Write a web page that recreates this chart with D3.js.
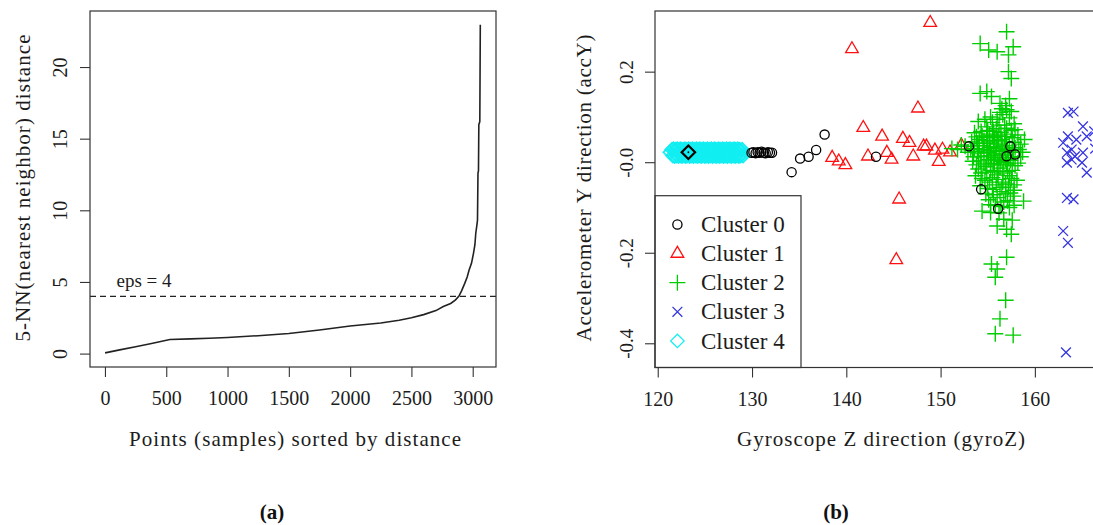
<!DOCTYPE html>
<html>
<head>
<meta charset="utf-8">
<script src="https://cdn.jsdelivr.net/npm/d3@7"></script>
<style>
html,body{margin:0;padding:0;background:#fff;}
svg{display:block;}
</style>
</head>
<body>
<svg id="chart" width="1093" height="525"></svg>
<script>
// ---------------- DATA ----------------
// (a) sorted 5-NN distance curve
const knnIndex = [1, 120, 250, 380, 530, 700, 850, 1000, 1250, 1500, 1750, 2000, 2250, 2400, 2500, 2600, 2700, 2760, 2820, 2860, 2888, 2910, 2935, 2955, 2970, 2990, 3006, 3018, 3025, 3033, 3039, 3043, 3047, 3050, 3055, 3058, 3062];
const knnDist  = [0.05, 0.26, 0.48, 0.70, 0.98, 1.03, 1.07, 1.12, 1.25, 1.40, 1.65, 1.93, 2.14, 2.33, 2.50, 2.72, 3.00, 3.28, 3.50, 3.75, 4.02, 4.40, 4.90, 5.35, 5.82, 6.30, 6.98, 7.60, 8.40, 8.90, 9.31, 12.60, 12.75, 16.00, 16.10, 16.20, 22.95];
const epsValue = 4;
const epsLabel = "eps = 4";
const xTicksLeft = [0, 500, 1000, 1500, 2000, 2500, 3000];
const yTicksLeft = [0, 5, 10, 15, 20];

// (b) clusters: [gyroZ, accY]
const cluster0 = [
  [129.95,0.021],[130.15,0.022],[130.38,0.020],[130.6,0.022],[130.8,0.021],[131.0,0.023],[131.25,0.021],[131.45,0.020],[131.68,0.022],[131.9,0.021],[132.12,0.021],
  [134.2,-0.022],[135.1,0.008],[136.0,0.012],[136.8,0.027],[137.7,0.061],[143.15,0.012],
  [153.0,0.035],[154.3,-0.060],[156.1,-0.103],[157.4,0.035],[157.0,0.013],[157.9,0.017]
];
const cluster0Overlap = [[123.25,0.022]];
const cluster1 = [
  [138.5,0.010],[139.2,0.002],[139.9,-0.006],[140.6,0.250],[141.8,0.076],[142.3,0.013],[143.8,0.057],[144.3,0.021],
  [144.8,0.006],[145.3,-0.216],[145.6,-0.082],[146.0,0.052],[146.7,0.043],[147.1,0.013],[147.6,0.119],[148.2,0.035],
  [148.5,0.035],[148.9,0.308],[149.4,0.026],[149.8,0.001],[150.2,0.028],[151.0,0.022],[152.2,0.037]
];
const cluster2 = [
  [157.0,0.288],[154.2,0.262],[155.1,0.248],[156.0,0.244],[157.7,0.255],[157.2,0.237],[157.2,0.200],[157.5,0.185],
  [154.2,0.152],[154.9,0.156],[155.4,0.145],[156.3,0.130],[157.0,0.116],[156.9,0.125],[157.3,0.140],[156.5,0.118],
  [156.6,0.105],[157.3,0.098],[156.0,0.095],[155.5,0.088],[157.8,0.085],[156.8,0.082],[154.9,0.078],[155.9,0.074],
  [157.5,0.070],[154.3,0.068],[156.4,0.066],[155.2,0.062],[158.2,0.060],[153.8,0.056],[157.0,0.057],[155.7,0.054],
  [156.5,0.050],[154.6,0.048],[158.9,0.050],[153.3,0.045],[157.8,0.044],[155.0,0.042],[156.1,0.040],[154.1,0.037],
  [157.3,0.036],[152.6,0.035],[155.6,0.034],[156.8,0.031],[153.6,0.030],[154.6,0.028],[158.3,0.028],[151.8,0.028],
  [155.3,0.026],[156.3,0.024],[157.6,0.022],[152.9,0.022],[154.0,0.020],[155.8,0.018],[156.9,0.016],[154.9,0.014],
  [153.5,0.012],[158.5,0.012],[156.2,0.010],[155.1,0.006],[157.4,0.004],[154.2,0.003],[156.7,0.000],[155.6,-0.003],
  [153.8,-0.006],[157.9,-0.008],[154.8,-0.010],[156.3,-0.013],[155.3,-0.018],[157.1,-0.020],[154.3,-0.024],[156.0,-0.028],
  [155.5,-0.034],[157.5,-0.036],[154.7,-0.040],[156.6,-0.044],[155.9,-0.050],[157.2,-0.055],[155.0,-0.058],[156.3,-0.065],
  [157.8,-0.062],[155.6,-0.072],[157.7,-0.075],[158.8,-0.086],[156.7,-0.088],[155.8,-0.095],[154.4,-0.108],[155.3,-0.111],
  [156.7,-0.126],[156.0,-0.141],[157.0,-0.148],[157.5,-0.159],[157.0,-0.210],[155.4,-0.225],[156.0,-0.236],[155.8,-0.254],
  [156.9,-0.305],[156.3,-0.346],[155.8,-0.379],[157.7,-0.382],
  [155.9,0.030],[156.5,0.036],[155.2,0.045],[156.9,0.045],[155.7,0.010],[156.4,0.002],[155.0,0.022],[157.2,0.010],
  [156.1,0.058],[154.4,0.058],[157.3,-0.100],[156.2,-0.112],[157.6,-0.128],[155.1,-0.083],[156.9,-0.070],[158.1,-0.040],
  [151.2,0.030],[152.2,0.038],
  [154.0,0.090],[154.7,0.095],[155.3,0.100],[156.3,0.110],[157.5,0.112],[155.0,0.070],[155.6,0.068],[156.2,0.082],
  [157.0,0.075],[157.9,0.072],[153.6,0.065],[154.1,0.050],[154.9,0.055],[155.5,0.058],[156.8,0.062],[157.6,0.054],
  [158.5,0.040],[153.9,0.042],[154.5,0.036],[155.2,0.032],[156.0,0.048],[156.6,0.026],[157.1,0.028],[157.9,0.032],
  [158.7,0.022],[153.2,0.028],[153.9,0.024],[154.3,0.012],[155.4,0.014],[156.0,0.004],[156.9,0.006],[157.7,0.010],
  [158.2,-0.002],[153.4,0.002],[154.6,-0.002],[155.3,-0.006],[156.1,-0.006],[157.0,-0.004],[157.6,-0.018],[154.0,-0.015],
  [154.9,-0.022],[155.7,-0.020],[156.6,-0.024],[157.3,-0.030],[153.7,-0.030],[154.4,-0.036],[155.2,-0.044],[156.1,-0.038],
  [156.9,-0.048],[157.8,-0.050],[154.2,-0.052],[155.5,-0.060],[156.5,-0.056],[157.4,-0.068],[154.8,-0.070],[156.0,-0.078],
  [157.1,-0.085],[155.3,-0.094],[156.4,-0.098],[157.8,-0.095]
];
const cluster3 = [
  [164.1,0.112],[163.5,0.109],[165.1,0.079],[163.5,0.057],[164.4,0.050],[165.5,0.057],[163.9,0.028],[163.4,0.021],
  [164.25,0.013],[165.1,0.021],[165.0,-0.001],[163.4,-0.001],[163.9,0.006],[165.5,-0.023],[163.0,0.043],[163.4,-0.079],
  [164.1,-0.082],[163.0,-0.152],[163.5,-0.178],[163.3,-0.420],[166.3,0.068],[166.4,0.030]
];
const cluster4 = [
  [121.31,0.0218],
  [121.52,0.028],[121.68,0.029],[121.9,0.028],[122.07,0.029],[122.3,0.028],[122.46,0.029],[122.7,0.028],[122.88,0.029],
  [123.05,0.028],[123.27,0.029],[123.5,0.028],[123.66,0.029],[123.88,0.028],[124.1,0.029],[124.29,0.028],[124.47,0.029],
  [124.7,0.028],[124.86,0.029],[125.08,0.028],[125.3,0.029],[125.47,0.028],[125.7,0.029],[125.9,0.028],[126.06,0.029],
  [126.3,0.028],[126.48,0.029],[126.69,0.028],[126.9,0.029],[127.08,0.028],[127.3,0.029],[127.5,0.028],[127.67,0.029],
  [127.9,0.028],[128.1,0.029],[128.27,0.028],[128.5,0.029],[128.7,0.028],[128.95,0.028],
  [121.6,0.014],[121.79,0.013],[122.0,0.014],[122.18,0.013],[122.4,0.014],[122.58,0.013],[122.8,0.014],[122.97,0.013],
  [123.18,0.014],[123.4,0.013],[123.58,0.014],[123.8,0.013],[124.0,0.014],[124.2,0.013],[124.38,0.014],[124.6,0.013],
  [124.78,0.014],[125.0,0.013],[125.2,0.014],[125.38,0.013],[125.6,0.014],[125.8,0.013],[125.98,0.014],[126.2,0.013],
  [126.4,0.014],[126.58,0.013],[126.8,0.014],[127.0,0.013],[127.2,0.014],[127.4,0.013],[127.58,0.014],[127.8,0.013],
  [128.0,0.014],[128.2,0.013],[128.4,0.014],[128.6,0.013],[128.8,0.014],[129.05,0.014]
];
const clusterNames = ["Cluster 0", "Cluster 1", "Cluster 2", "Cluster 3", "Cluster 4"];
const xTicksRight = [120, 130, 140, 150, 160];
const yTicksRight = [-0.4, -0.2, 0, 0.2];
const yTickLabelsRight = ["-0.4", "-0.2", "-0.0", "0.2"];
const panelLabels = ["(a)", "(b)"];
const titleLeftX = "Points (samples) sorted by distance";
const titleLeftY = "5-NN(nearest neighbor) distance";
const titleRightX = "Gyroscope Z direction (gyroZ)";
const titleRightY = "Accelerometer Y direction (accY)";

// ---------------- STYLE ----------------
const FONT = "'Liberation Serif','Times New Roman',serif";
const INK = "#1c1c1c";
const AXIS = "#333";
const clusterColors = ["#000000", "#ff1010", "#00cd00", "#3535e0", "#12eef2"];

const svg = d3.select("#chart");
svg.append("rect").attr("width", 1093).attr("height", 525).attr("fill", "#fff");

function symbolPath(type, cx, cy) {
  if (type === 1) return `M${cx},${cy-7.3}L${cx+6.33},${cy+3.66}L${cx-6.33},${cy+3.66}Z`;
  if (type === 2) return `M${cx-8},${cy}H${cx+8}M${cx},${cy-8}V${cy+8}`;
  if (type === 3) return `M${cx-4.9},${cy-4.9}L${cx+4.9},${cy+4.9}M${cx-4.9},${cy+4.9}L${cx+4.9},${cy-4.9}`;
  if (type === 4) return `M${cx},${cy-6.7}L${cx+6.7},${cy}L${cx},${cy+6.7}L${cx-6.7},${cy}Z`;
  return null;
}
function drawSymbol(g, type, cx, cy, color, sw) {
  if (type === 0) {
    g.append("circle").attr("cx", cx).attr("cy", cy).attr("r", 4.6)
      .attr("fill", "none").attr("stroke", color).attr("stroke-width", sw);
  } else {
    g.append("path").attr("d", symbolPath(type, cx, cy))
      .attr("fill", "none").attr("stroke", color).attr("stroke-width", sw);
  }
}

function xAxis(g, scale, ticks, yPos, fs, labels) {
  const ax = d3.axisBottom(scale).tickValues(ticks).tickSize(10)
    .tickFormat(labels ? (d, i) => labels[i] : d3.format("d"));
  const a = g.append("g").attr("transform", `translate(0,${yPos})`).call(ax);
  a.attr("font-family", FONT).attr("font-size", fs);
  a.select(".domain").remove();
  a.selectAll(".tick line").attr("stroke", AXIS).attr("stroke-width", 1.1);
  a.selectAll(".tick text").attr("y", 38).attr("dy", 0).attr("fill", INK);
}
function yAxis(g, scale, ticks, xPos, fs, off, labels) {
  const ax = d3.axisLeft(scale).tickValues(ticks).tickSize(10)
    .tickFormat(labels ? (d, i) => labels[i] : d3.format("d"));
  const a = g.append("g").attr("transform", `translate(${xPos},0)`).call(ax);
  a.attr("font-family", FONT).attr("font-size", fs);
  a.select(".domain").remove();
  a.selectAll(".tick line").attr("stroke", AXIS).attr("stroke-width", 1.1);
  a.selectAll(".tick text").attr("transform", "rotate(-90)")
    .attr("x", 0).attr("y", -off).attr("dy", 0).attr("text-anchor", "middle").attr("fill", INK);
}
function title(g, txt, x, y, len, rot) {
  const t = g.append("text").text(txt).attr("font-family", FONT).attr("font-size", 21)
    .attr("fill", INK).attr("text-anchor", "middle")
    .attr("textLength", len).attr("lengthAdjust", "spacing");
  if (rot) t.attr("transform", `translate(${x},${y}) rotate(-90)`);
  else t.attr("x", x).attr("y", y);
}

// ---------------- PANEL (a) ----------------
const gA = svg.append("g");
const xL = d3.scaleLinear().domain([-122, 3190]).range([90, 496]);
const yL = d3.scaleLinear().domain([-0.936, 23.91]).range([367, 11]);

gA.append("line").attr("x1", 90).attr("x2", 496).attr("y1", yL(epsValue)).attr("y2", yL(epsValue))
  .attr("stroke", "#222").attr("stroke-width", 1.3).attr("stroke-dasharray", "6,4");
gA.append("path").datum(knnDist)
  .attr("d", d3.line().x((d, i) => xL(knnIndex[i])).y(d => yL(d)))
  .attr("fill", "none").attr("stroke", "#222").attr("stroke-width", 1.6);
gA.append("text").text(epsLabel).attr("x", 144).attr("y", 287).attr("text-anchor", "middle")
  .attr("font-family", FONT).attr("font-size", 19).attr("fill", INK);
gA.append("rect").attr("x", 90).attr("y", 11).attr("width", 406).attr("height", 356)
  .attr("fill", "none").attr("stroke", AXIS).attr("stroke-width", 1.2);
xAxis(gA, xL, xTicksLeft, 367, 20);
yAxis(gA, yL, yTicksLeft, 90, 20, 23);
title(gA, titleLeftX, 295, 446, 332);
title(gA, titleLeftY, 30, 188, 307, true);

// ---------------- PANEL (b) ----------------
const gB = svg.append("g");
const xR = d3.scaleLinear().domain([119.71, 167.65]).range([655, 1107]);
const yR = d3.scaleLinear().domain([-0.4535, 0.334]).range([367.5, 11]);
const pts = gB.append("g");

const drawOrder = [[cluster4, 4], [cluster1, 1], [cluster2, 2], [cluster0, 0], [cluster3, 3]];
drawOrder.forEach(([arr, type]) => {
  arr.forEach(p => drawSymbol(pts, type, xR(p[0]), yR(p[1]), clusterColors[type], type === 4 ? 1.8 : (type === 2 ? 1.4 : 1.3)));
});
cluster0Overlap.forEach(p => {
  pts.append("path").attr("d", symbolPath(4, xR(p[0]), yR(p[1])))
    .attr("fill", "none").attr("stroke", "#000").attr("stroke-width", 2.2);
  pts.append("circle").attr("cx", xR(p[0])).attr("cy", yR(p[1])).attr("r", 0.9).attr("fill", "#000");
});

// legend
const lg = gB.append("g");
lg.append("rect").attr("x", 655).attr("y", 195.7).attr("width", 146).attr("height", 171.8)
  .attr("fill", "#fff").attr("stroke", AXIS).attr("stroke-width", 1.2);
clusterNames.forEach((name, i) => {
  const cy = 224.5 + i * 29.1;
  drawSymbol(lg, i, 677.4, cy, clusterColors[i], 1.3);
  lg.append("text").text(name).attr("x", 701).attr("y", cy + 7.6)
    .attr("font-family", FONT).attr("font-size", 23).attr("fill", INK);
});

gB.append("rect").attr("x", 655).attr("y", 11).attr("width", 452).attr("height", 356.5)
  .attr("fill", "none").attr("stroke", AXIS).attr("stroke-width", 1.2);
xAxis(gB, xR, xTicksRight, 367.5, 20);
yAxis(gB, yR, yTicksRight, 655, 19, 21.7, yTickLabelsRight);
title(gB, titleRightX, 881, 446, 288);
title(gB, titleRightY, 591, 188, 307, true);

// panel captions
[[272, panelLabels[0]], [836, panelLabels[1]]].forEach(([x, t]) => {
  svg.append("text").text(t).attr("x", x).attr("y", 519).attr("text-anchor", "middle")
    .attr("font-family", FONT).attr("font-weight", "bold").attr("font-size", 21).attr("fill", "#111");
});
</script>
</body>
</html>
